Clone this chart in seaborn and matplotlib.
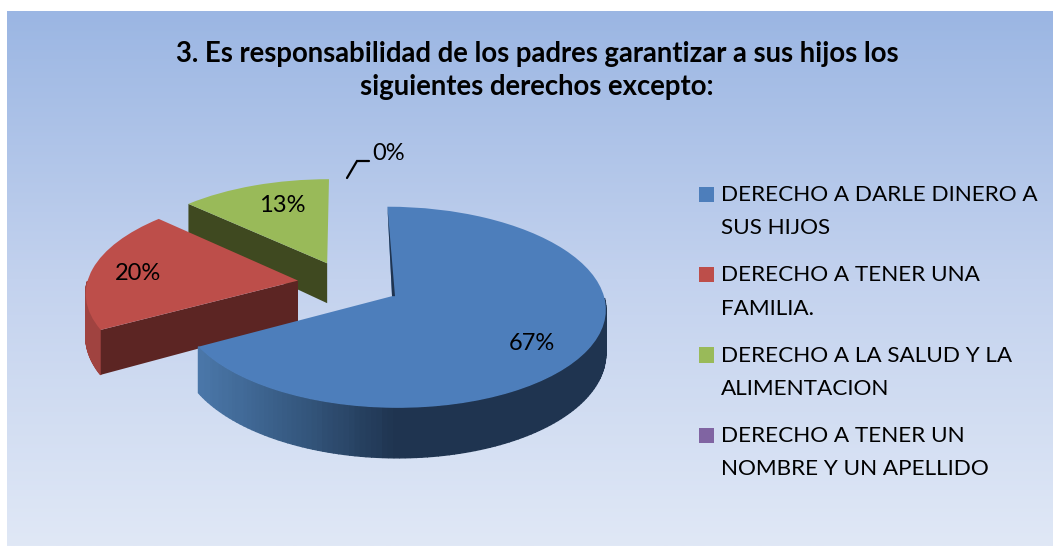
import numpy as np
import matplotlib
matplotlib.use("Agg")
import matplotlib.pyplot as plt
from matplotlib.colors import LinearSegmentedColormap
from matplotlib.transforms import Transform
import seaborn as sns

title_text = "3. Es responsabilidad de los padres garantizar a sus hijos los\nsiguientes derechos excepto:"
categories = [
    "DERECHO A DARLE DINERO A\nSUS HIJOS",
    "DERECHO A TENER UNA\nFAMILIA.",
    "DERECHO A LA SALUD Y LA\nALIMENTACION",
    "DERECHO A TENER UN\nNOMBRE Y UN APELLIDO",
]
values = [67, 20, 13, 0]
top_colors = ["#4d7ebb", "#bd4e4a", "#99ba59", "#8064a2"]
wall_colors = ["#1f3450", "#5c2523", "#3f4920", "#3f2f55"]
rim_colors = [None, "#a04340", "#7d9647", "#8064a2"]
label_px = [(532, 343), (138, 273), (282, 205), (389, 153)]

sns.set_theme(style="white")
plt.rcParams["font.family"] = ["Lato", "DejaVu Sans"]

W, H = 1053, 546
CX, CY, RX, RY, PERSP = 346.0, 283.4, 211.0, 97.5, 0.11


def project(x, y):
    s = 1.0 / (1.0 + PERSP * np.asarray(y))
    return CX + RX * np.asarray(x) * s, CY - RY * np.asarray(y) * s


def depth(y):
    return 41.5 - 7.6 * np.asarray(y)


class Perspective(Transform):
    input_dims = output_dims = 2
    is_separable = False
    has_inverse = False

    def transform_non_affine(self, values):
        v = np.asarray(values, dtype=float)
        px, py = project(v[:, 0], v[:, 1])
        return np.column_stack([px, py])


fig = plt.figure(figsize=(W / 100, H / 100), dpi=100, facecolor="white")
ax = fig.add_axes([0, 0, 1, 1])

bg = LinearSegmentedColormap.from_list("bg", ["#9bb6e3", "#c3d2ee", "#e0e8f6"])
ax.imshow(np.linspace(0, 1, 256).reshape(-1, 1), cmap=bg, aspect="auto",
          extent=(7, W, H, 11), zorder=0)

wedges, texts, autotexts = ax.pie(
    values, explode=[0.23, 0.23, 0.23, 0.23], radius=1, center=(0, 0),
    startangle=90, counterclock=False, colors=top_colors, autopct="%1.0f%%",
    wedgeprops={"linewidth": 0},
    textprops={"fontsize": 17, "color": "black"},
)
ax.set_aspect("auto")
ax.set_xlim(0, W)
ax.set_ylim(H, 0)
ax.set_axis_off()

# the large slice sits slightly tighter, as in the 3-D original
bx, by = wedges[0].center
wedges[0].set_center((bx + 0.017, by - 0.012))
wedges[0].set_radius(0.99)

persp = Perspective()
ramp = sns.blend_palette(["#4a76a8", "#35587f", "#1f3450", "#1f3450"], 64)
draw_order = [2, 1, 0]
for rank, i in enumerate(draw_order):
    w = wedges[i]
    z = 2 + rank * 3
    cx0, cy0 = w.center
    # rim on the near side
    th = np.radians(np.linspace(w.theta1, w.theta2, 181))
    th = th[np.sin(th) < 0]
    xs, ys = cx0 + w.r * np.cos(th), cy0 + w.r * np.sin(th)
    px, py = project(xs, ys)
    dp = depth(ys)
    for k in range(len(th) - 1):
        if rim_colors[i] is None:
            f = np.clip((0.5 * (px[k] + px[k + 1]) - 201) / 290, 0, 1)
            c = ramp[int(f * 63)]
        else:
            c = rim_colors[i]
        ax.fill([px[k], px[k + 1], px[k + 1], px[k]],
                [py[k], py[k + 1], py[k + 1] + dp[k + 1], py[k] + dp[k]],
                color=c, lw=1.0, zorder=z)
    # cut wall
    if i != 0:
        ang = np.radians(w.theta2)
        ex, ey = cx0 + w.r * np.cos(ang), cy0 + w.r * np.sin(ang)
        (ax0, ex_p), (ay0, ey_p) = project([cx0, ex], [cy0, ey])
        d0, d1 = depth(cy0), depth(ey)
        ax.fill([ax0, ex_p, ex_p, ax0],
                [ay0, ey_p, ey_p + d1, ay0 + d0],
                color=wall_colors[i], lw=0, zorder=z + 1)
    w.set_transform(persp + ax.transData)
    w.set_zorder(z + 2)
    if i == 0:
        ang = np.radians(w.theta2)
        ex, ey = cx0 + w.r * np.cos(ang), cy0 + w.r * np.sin(ang)
        (ax0, ex_p), (ay0, ey_p) = project([cx0, ex], [cy0, ey])
        ax.fill([ex_p, ax0, ax0 + 3], [ey_p, ay0, ay0], color=wall_colors[0],
                lw=0, zorder=z + 3)
wedges[3].set_visible(False)

for t, pos in zip(autotexts, label_px):
    t.set_position(pos)
    t.set_zorder(20)
    t.set_ha("center")
    t.set_va("center")

ax.plot([347, 357, 369], [178, 161, 161], color="black", lw=1.6, zorder=20,
        solid_capstyle="round", solid_joinstyle="miter")

ax.text(537, 70.5, title_text, ha="center", va="center", fontsize=19.8,
        fontweight="bold", color="black", linespacing=1.33, zorder=20)

FS = 16.2
leg = ax.legend(wedges, categories, loc="upper left",
                bbox_to_anchor=(699 / W, 1 - 185 / H), frameon=False,
                fontsize=FS, handlelength=0.66, handleheight=0.66,
                handletextpad=0.3, labelspacing=1.2, borderpad=0, borderaxespad=0)
for lab in leg.get_texts():
    lab.set_linespacing(1.83)
    lab.set_color("black")
for h in leg.legend_handles:
    h.set_visible(True)
    h.set_y(h.get_y() + 12.4)
    h.set_linewidth(0)

fig.savefig("out.png", dpi=100, facecolor="white")
